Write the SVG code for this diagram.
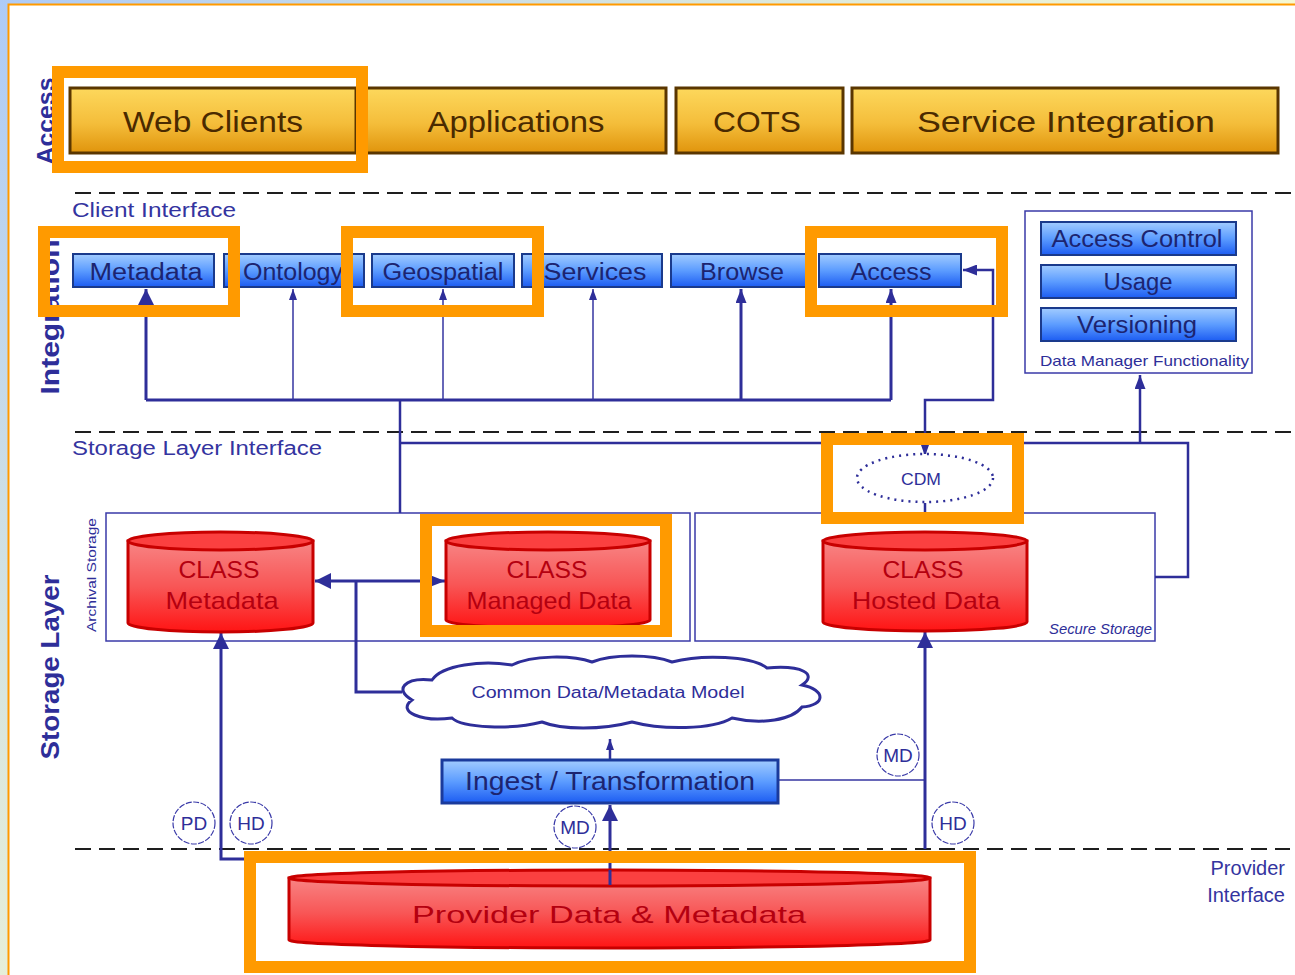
<svg xmlns="http://www.w3.org/2000/svg" width="1295" height="975" viewBox="0 0 1295 975">
<defs>
<linearGradient id="bg" gradientUnits="userSpaceOnUse" x1="0" y1="0" x2="700" y2="700">
<stop offset="0" stop-color="#aecbf7"/><stop offset="0.5" stop-color="#d9e6de"/><stop offset="1" stop-color="#fbfbd0"/>
</linearGradient>
<linearGradient id="gold" x1="0" y1="0" x2="0" y2="1">
<stop offset="0" stop-color="#fdd85c"/><stop offset="0.55" stop-color="#f4bd3a"/><stop offset="1" stop-color="#e0940c"/>
</linearGradient>
<linearGradient id="blue" x1="0" y1="0" x2="0" y2="1">
<stop offset="0" stop-color="#a2ccff"/><stop offset="0.5" stop-color="#5c9cff"/><stop offset="1" stop-color="#1c5cf2"/>
</linearGradient>
<linearGradient id="red" x1="0" y1="0" x2="0" y2="1">
<stop offset="0" stop-color="#f88484"/><stop offset="0.5" stop-color="#f85656"/><stop offset="1" stop-color="#ff1414"/>
</linearGradient>
<marker id="big" viewBox="0 0 10 10" refX="10" refY="5" markerWidth="16" markerHeight="16" orient="auto-start-reverse" markerUnits="userSpaceOnUse" preserveAspectRatio="none"><path d="M0,0 L10,5 L0,10 z" fill="#2e2e99"/></marker>
<marker id="mid" viewBox="0 0 10 10" refX="10" refY="5" markerWidth="14" markerHeight="11" orient="auto-start-reverse" markerUnits="userSpaceOnUse" preserveAspectRatio="none"><path d="M0,0 L10,5 L0,10 z" fill="#2e2e99"/></marker>
<marker id="sml" viewBox="0 0 10 10" refX="10" refY="5" markerWidth="11" markerHeight="8" orient="auto-start-reverse" markerUnits="userSpaceOnUse" preserveAspectRatio="none"><path d="M0,0 L10,5 L0,10 z" fill="#2e2e99"/></marker>
</defs>
<style>
text{font-family:"Liberation Sans",Arial,sans-serif}
.gbox{fill:url(#gold);stroke:#5a3600;stroke-width:3}
.gt{font-size:30px;fill:#4a2a00;text-anchor:middle}
.bbox{fill:url(#blue);stroke:#1a3a8c;stroke-width:2}
.bt{font-size:23px;fill:#1c2470;text-anchor:middle}
.cyl{fill:url(#red);stroke:#c80000;stroke-width:3}
.cap{fill:#fb4040;stroke:#c80000;stroke-width:3}
.ct{font-size:24px;fill:#b40010;text-anchor:middle}
.lbl{font-size:20px;fill:#3434a0}
.vl{font-weight:bold;fill:#2e2e99;text-anchor:middle}
.dash{stroke:#1e1e1e;stroke-width:2;stroke-dasharray:16 8;fill:none}
.frame{fill:none;stroke:#3a3aa8;stroke-width:1.5}
.c3{stroke:#2e2e99;stroke-width:3;fill:none}
.c2{stroke:#2e2e99;stroke-width:2.5;fill:none}
.c1{stroke:#3434a0;stroke-width:1.5;fill:none}
.tag{fill:#fff;stroke:#3a3aa8;stroke-width:1.2;stroke-dasharray:6 1.5}
.tt{font-size:19px;fill:#2e2e99;text-anchor:middle}
.hl{fill:none;stroke:#ff9a00;stroke-width:12}
</style>
<rect x="0" y="0" width="1295" height="975" fill="url(#bg)"/>
<rect x="9" y="5" width="1286" height="970" fill="#ffffff"/>
<path d="M8.5,975 V4.5 H1295" fill="none" stroke="#ff9a00" stroke-width="2"/>

<g id="layer-labels">
<text class="vl" transform="translate(54,121) rotate(-90)" font-size="24" textLength="87" lengthAdjust="spacingAndGlyphs">Access</text>
<text class="vl" transform="translate(59,317) rotate(-90)" font-size="26" textLength="155" lengthAdjust="spacingAndGlyphs">Integration</text>
<text class="vl" transform="translate(59,667) rotate(-90)" font-size="26" textLength="185" lengthAdjust="spacingAndGlyphs">Storage Layer</text>
</g>

<g id="separators">
<line class="dash" x1="75" y1="193" x2="1295" y2="193"/>
<line class="dash" x1="75" y1="432" x2="1295" y2="432"/>
<line class="dash" x1="75" y1="849" x2="1290" y2="849"/>
<text class="lbl" x="72" y="217" textLength="164" lengthAdjust="spacingAndGlyphs">Client Interface</text>
<text class="lbl" x="72" y="455" textLength="250" lengthAdjust="spacingAndGlyphs">Storage Layer Interface</text>
<text class="lbl" x="1285" y="875" text-anchor="end">Provider</text>
<text class="lbl" x="1285" y="902" text-anchor="end">Interface</text>
</g>

<g id="web-clients"><rect class="gbox" x="70" y="88" width="286" height="65"/><text class="gt" x="213" y="132" textLength="180" lengthAdjust="spacingAndGlyphs">Web Clients</text></g>
<g id="applications"><rect class="gbox" x="362" y="88" width="304" height="65"/><text class="gt" x="516" y="132" textLength="177" lengthAdjust="spacingAndGlyphs">Applications</text></g>
<g id="cots"><rect class="gbox" x="676" y="88" width="167" height="65"/><text class="gt" x="757" y="132" textLength="88" lengthAdjust="spacingAndGlyphs">COTS</text></g>
<g id="service-integration"><rect class="gbox" x="852" y="88" width="426" height="65"/><text class="gt" x="1066" y="132" textLength="298" lengthAdjust="spacingAndGlyphs">Service Integration</text></g>

<g id="metadata"><rect class="bbox" x="73" y="254" width="141" height="33"/><text class="bt" x="146" y="280" textLength="113" lengthAdjust="spacingAndGlyphs">Metadata</text></g>
<g id="ontology"><rect class="bbox" x="224" y="254" width="140" height="33"/><text class="bt" x="293" y="280" textLength="100" lengthAdjust="spacingAndGlyphs">Ontology</text></g>
<g id="geospatial"><rect class="bbox" x="372" y="254" width="142" height="33"/><text class="bt" x="443" y="280" textLength="121" lengthAdjust="spacingAndGlyphs">Geospatial</text></g>
<g id="services"><rect class="bbox" x="522" y="254" width="140" height="33"/><text class="bt" x="595" y="280" textLength="103" lengthAdjust="spacingAndGlyphs">Services</text></g>
<g id="browse"><rect class="bbox" x="671" y="254" width="140" height="33"/><text class="bt" x="742" y="280" textLength="84" lengthAdjust="spacingAndGlyphs">Browse</text></g>
<g id="access"><rect class="bbox" x="819" y="254" width="142" height="33"/><text class="bt" x="891" y="280" textLength="81" lengthAdjust="spacingAndGlyphs">Access</text></g>

<g id="data-manager">
<rect class="frame" x="1025" y="211" width="227" height="162" fill="#fff"/>
<rect class="bbox" x="1041" y="222" width="195" height="33"/><text class="bt" x="1137" y="247" textLength="171" lengthAdjust="spacingAndGlyphs">Access Control</text>
<rect class="bbox" x="1041" y="265" width="195" height="33"/><text class="bt" x="1138" y="290" textLength="69" lengthAdjust="spacingAndGlyphs">Usage</text>
<rect class="bbox" x="1041" y="308" width="195" height="33"/><text class="bt" x="1137" y="333" textLength="120" lengthAdjust="spacingAndGlyphs">Versioning</text>
<text x="1040" y="366" font-size="15" fill="#2e2e99" textLength="209" lengthAdjust="spacingAndGlyphs">Data Manager Functionality</text>
</g>

<g id="archival-storage">
<rect class="frame" x="106" y="513" width="584" height="128"/>
<text transform="translate(96,575) rotate(-90)" font-size="12" fill="#2e2e99" text-anchor="middle" textLength="114" lengthAdjust="spacingAndGlyphs">Archival Storage</text>
</g>
<g id="secure-storage">
<rect class="frame" x="695" y="513" width="460" height="128"/>
<text x="1152" y="634" font-size="14" font-style="italic" fill="#2e2e99" text-anchor="end" textLength="103" lengthAdjust="spacingAndGlyphs">Secure Storage</text>
</g>

<g id="connectors">
<path class="c3" d="M146,400 H891"/>
<path class="c3" d="M146,400 V289" marker-end="url(#big)"/>
<path class="c1" d="M293,400 V289" marker-end="url(#sml)"/>
<path class="c1" d="M443,400 V289" marker-end="url(#sml)"/>
<path class="c1" d="M593,400 V289" marker-end="url(#sml)"/>
<path class="c3" d="M741,400 V289" marker-end="url(#mid)"/>
<path class="c3" d="M891,400 V289" marker-end="url(#mid)"/>
<path class="c2" d="M400,400 V513"/>
<path class="c2" d="M400,443 H1188 V577 H1155"/>
<path class="c2" d="M1140,443 V375" marker-end="url(#mid)"/>
<path class="c2" d="M925,456 V400 H993 V270 H963" marker-start="url(#sml)" marker-end="url(#mid)"/>
<path class="c2" d="M925,503 V513"/>
<path class="c3" d="M445,581 H315" marker-start="url(#mid)" marker-end="url(#big)"/>
<path class="c3" d="M356,581 V692 H402"/>
<path class="c3" d="M246,859 H221 V633" marker-end="url(#big)"/>
<path class="c3" d="M610,885 V805" marker-end="url(#big)"/>
<path class="c2" d="M610,759 V739" marker-end="url(#sml)"/>
<path class="c1" d="M778,780 H925"/>
<path class="c3" d="M925,849 V632" marker-end="url(#big)"/>
</g>

<g id="cdm">
<ellipse cx="925" cy="478" rx="68" ry="24" fill="#fff" stroke="#2e2e99" stroke-width="2.5" stroke-dasharray="2 5"/>
<text x="921" y="485" font-size="16" fill="#2e2e99" text-anchor="middle" textLength="40" lengthAdjust="spacingAndGlyphs">CDM</text>
</g>

<g id="class-metadata">
<path class="cyl" d="M128,541 V623 A92.5,9 0 0 0 313,623 V541 Z"/>
<ellipse class="cap" cx="220.5" cy="541" rx="92.5" ry="9"/>
<text class="ct" x="219" y="578" textLength="81" lengthAdjust="spacingAndGlyphs">CLASS</text>
<text class="ct" x="222" y="609" textLength="113" lengthAdjust="spacingAndGlyphs">Metadata</text>
</g>
<g id="class-managed-data">
<path class="cyl" d="M446,541 V620 A102,8 0 0 0 650,620 V541 Z"/>
<ellipse class="cap" cx="548" cy="541" rx="102" ry="9"/>
<text class="ct" x="547" y="578" textLength="81" lengthAdjust="spacingAndGlyphs">CLASS</text>
<text class="ct" x="549" y="609" textLength="165" lengthAdjust="spacingAndGlyphs">Managed Data</text>
</g>
<g id="class-hosted-data">
<path class="cyl" d="M823,541 V622 A102,9 0 0 0 1027,622 V541 Z"/>
<ellipse class="cap" cx="925" cy="541" rx="102" ry="9"/>
<text class="ct" x="923" y="578" textLength="81" lengthAdjust="spacingAndGlyphs">CLASS</text>
<text class="ct" x="926" y="609" textLength="148" lengthAdjust="spacingAndGlyphs">Hosted Data</text>
</g>

<g id="common-model">
<path d="M412,700 C394,690 404,677 432,680 C442,665 482,660 512,665 C532,655 572,655 592,662 C612,654 652,654 672,662 C702,654 752,656 767,668 C802,665 818,674 802,685 C826,690 826,705 802,707 C792,720 762,725 732,718 C712,730 662,730 632,722 C602,730 562,730 542,722 C512,730 462,728 452,718 C422,722 396,712 412,700 Z" fill="#fff" stroke="#2e2e99" stroke-width="3"/>
<text x="608" y="698" font-size="16" fill="#2e2e99" text-anchor="middle" textLength="273" lengthAdjust="spacingAndGlyphs">Common Data/Metadata Model</text>
</g>

<g id="ingest">
<rect x="442" y="760" width="336" height="43" fill="url(#blue)" stroke="#1a3a9c" stroke-width="3"/>
<text x="610" y="790" font-size="26" fill="#1c2470" text-anchor="middle" textLength="290" lengthAdjust="spacingAndGlyphs">Ingest / Transformation</text>
</g>

<g id="provider">
<path class="cyl" d="M289,878 V940 A320.5,8 0 0 0 930,940 V878 Z"/>
<ellipse class="cap" cx="609.5" cy="878" rx="320.5" ry="8"/>
<text class="ct" x="609" y="923" font-size="30" textLength="394" lengthAdjust="spacingAndGlyphs">Provider Data &amp; Metadata</text>
</g>
<path class="c3" d="M610,885 V870"/>

<g id="tags">
<circle class="tag" cx="194" cy="823" r="21"/><text class="tt" x="194" y="830">PD</text>
<circle class="tag" cx="251" cy="823" r="21"/><text class="tt" x="251" y="830">HD</text>
<circle class="tag" cx="575" cy="827" r="21"/><text class="tt" x="575" y="834">MD</text>
<circle class="tag" cx="898" cy="755" r="21"/><text class="tt" x="898" y="762">MD</text>
<circle class="tag" cx="953" cy="823" r="21"/><text class="tt" x="953" y="830">HD</text>
</g>

<g id="highlights">
<rect class="hl" x="58" y="72" width="304" height="95"/>
<rect class="hl" x="44" y="232" width="190" height="79"/>
<rect class="hl" x="347" y="232" width="191" height="79"/>
<rect class="hl" x="811" y="232" width="191" height="79"/>
<rect class="hl" x="827" y="439" width="191" height="79"/>
<rect class="hl" x="426" y="520" width="240" height="111"/>
<rect class="hl" x="250" y="857" width="720" height="110"/>
</g>
</svg>
